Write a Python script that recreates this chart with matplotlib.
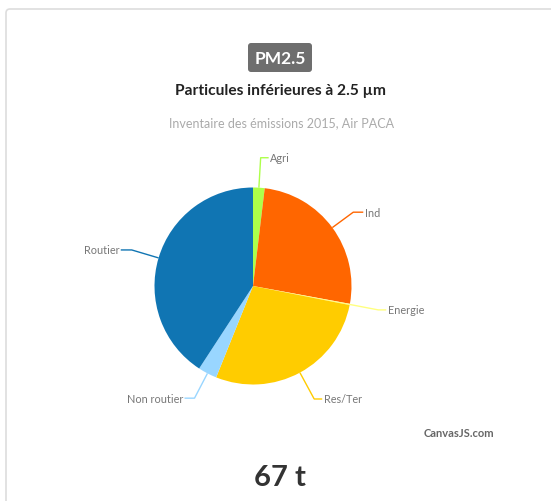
import numpy as np
import matplotlib.pyplot as plt
from matplotlib.patches import FancyBboxPatch

plt.rcParams['font.family'] = ['Lato', 'DejaVu Sans']

# PM2.5 emissions share by sector (%)
sectors = ["Agri", "Ind", "Energie", "Res/Ter", "Non routier", "Routier"]
shares = [1.9, 26.0, 0.2, 28.0, 3.1, 40.8]
colors = ["#adff4a", "#ff6600", "#ffff80", "#ffcc00", "#99d6ff", "#1075b3"]
total_label = "67 t"

W, H = 551, 502
fig = plt.figure(figsize=(W / 100, H / 100), dpi=100)
ax = fig.add_axes([0, 0, 1, 1])


def py(y):
    # top-down pixel row -> axes y
    return H - y


# card outline
card = FancyBboxPatch((6, py(530)), 570, 520, boxstyle="round,pad=0,rounding_size=4",
                      fc="white", ec="#dddddd", lw=1.2)
ax.add_patch(card)

# badge
badge = FancyBboxPatch((248, py(73)), 64, 29, boxstyle="round,pad=0,rounding_size=3",
                       fc="#6e6e6e", ec="none")
ax.add_patch(badge)
ax.text(280, py(58.5), "PM2.5", color="white", fontsize=12.5, fontweight="bold",
        ha="center", va="center")
ax.text(280, py(91), "Particules inférieures à 2.5 µm", color="#222222", fontsize=11.2,
        fontweight="bold", ha="center", va="center")
ax.text(282, py(123), "Inventaire des émissions 2015, Air PACA", color="#aaaaaa",
        fontsize=9.0, ha="center", va="center")

cx, cy, r = 253, py(287), 98.5
wedges, _ = ax.pie(shares, colors=colors, startangle=90, counterclock=False,
                   center=(cx, cy), radius=r, frame=True,
                   wedgeprops=dict(linewidth=0))
ax.set_xlim(0, W)
ax.set_ylim(0, H)
ax.set_aspect('equal')
ax.axis('off')

# leader lines: radial kick then short horizontal run to the label
kicks = [30, 26, 29, 30, 28, 28]
runs = [8, 10, 8, 8, 10, 11]
for w, name, col, k, run in zip(wedges, sectors, colors, kicks, runs):
    ang = np.deg2rad((w.theta1 + w.theta2) / 2)
    x0, y0 = cx + r * np.cos(ang), cy + r * np.sin(ang)
    x1, y1 = cx + (r + k) * np.cos(ang), cy + (r + k) * np.sin(ang)
    side = 1 if np.cos(ang) >= 0 else -1
    x2 = x1 + side * run
    ax.plot([x0, x1, x2], [y0, y1, y1], color=col, lw=1, solid_capstyle="butt")
    ax.text(x2 + side * 1.5, y1, name, color="#777777", fontsize=7.8,
            ha="left" if side > 0 else "right", va="center")

ax.text(494, py(434), "CanvasJS.com", color="#666666", fontsize=8, fontweight="bold",
        ha="right", va="center")
ax.text(280, py(478), total_label, color="#333333", fontsize=21, fontweight="bold",
        ha="center", va="center")

fig.savefig("out.png", dpi=100)
